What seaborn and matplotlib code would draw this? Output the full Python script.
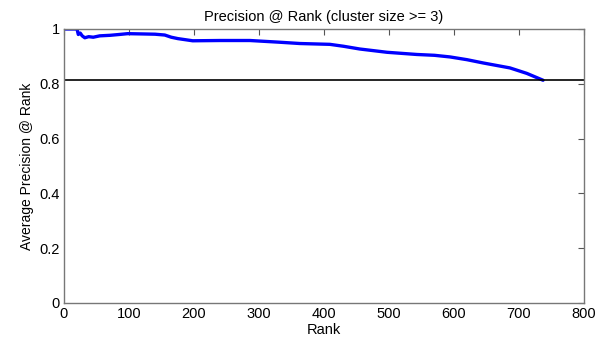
import matplotlib
matplotlib.use("Agg")
import matplotlib.pyplot as plt
import seaborn as sns
import pandas as pd

rank = [1, 20, 22, 25, 28, 32, 38, 45, 55, 71, 85, 98, 120, 140, 155, 165, 175,
        198, 240, 286, 330, 363, 409, 430, 455, 497, 543, 570, 594, 620, 645,
        686, 712, 737]
precision = [1.0, 1.0, 0.980, 0.985, 0.975, 0.968, 0.972, 0.970, 0.975, 0.977,
             0.980, 0.983, 0.982, 0.981, 0.978, 0.970, 0.965, 0.957, 0.958,
             0.958, 0.952, 0.947, 0.944, 0.937, 0.927, 0.915, 0.907, 0.904,
             0.898, 0.888, 0.876, 0.858, 0.838, 0.813]
baseline = 0.815
xticks = [0, 100, 200, 300, 400, 500, 600, 700, 800]
yticks = [0, 0.2, 0.4, 0.6, 0.8, 1]

sns.set_style("white")
plt.rcParams['font.family'] = ['Liberation Sans', 'DejaVu Sans']
plt.rcParams['text.color'] = 'black'
plt.rcParams['axes.labelcolor'] = 'black'
plt.rcParams['xtick.color'] = 'black'
plt.rcParams['ytick.color'] = 'black'

df = pd.DataFrame({"Rank": rank, "Precision": precision})

fig = plt.figure(figsize=(6.07, 3.39), dpi=100)
ax = fig.add_axes([64/607, 36/339, 520/607, 274/339])

sns.lineplot(data=df, x="Rank", y="Precision", ax=ax, color=(0, 0, 1),
             linewidth=2.4)
ax.axhline(baseline, color="black", linewidth=1.2)

ax.set_xlim(0, 800)
ax.set_ylim(0, 1)
ax.set_xticks(xticks)
ax.set_xticklabels([str(v) for v in xticks])
ax.set_yticks(yticks)
ax.set_yticklabels(["0", "0.2", "0.4", "0.6", "0.8", "1"])
ax.tick_params(direction="in", length=4, width=0.8, color="#555555",
               labelcolor="black", top=True, right=True, labelsize=10.5, pad=3)
for s in ax.spines.values():
    s.set_visible(True)
    s.set_color("#777777")
    s.set_linewidth(1.0)

ax.set_title("Precision @ Rank (cluster size >= 3)", fontsize=10.5, pad=6,
             color="black")
ax.set_xlabel("Rank", fontsize=10.5, labelpad=1, color="black")
ax.set_ylabel("Average Precision @ Rank", fontsize=10, labelpad=4,
              color="black")

fig.savefig("out.png", dpi=100, facecolor="white")
